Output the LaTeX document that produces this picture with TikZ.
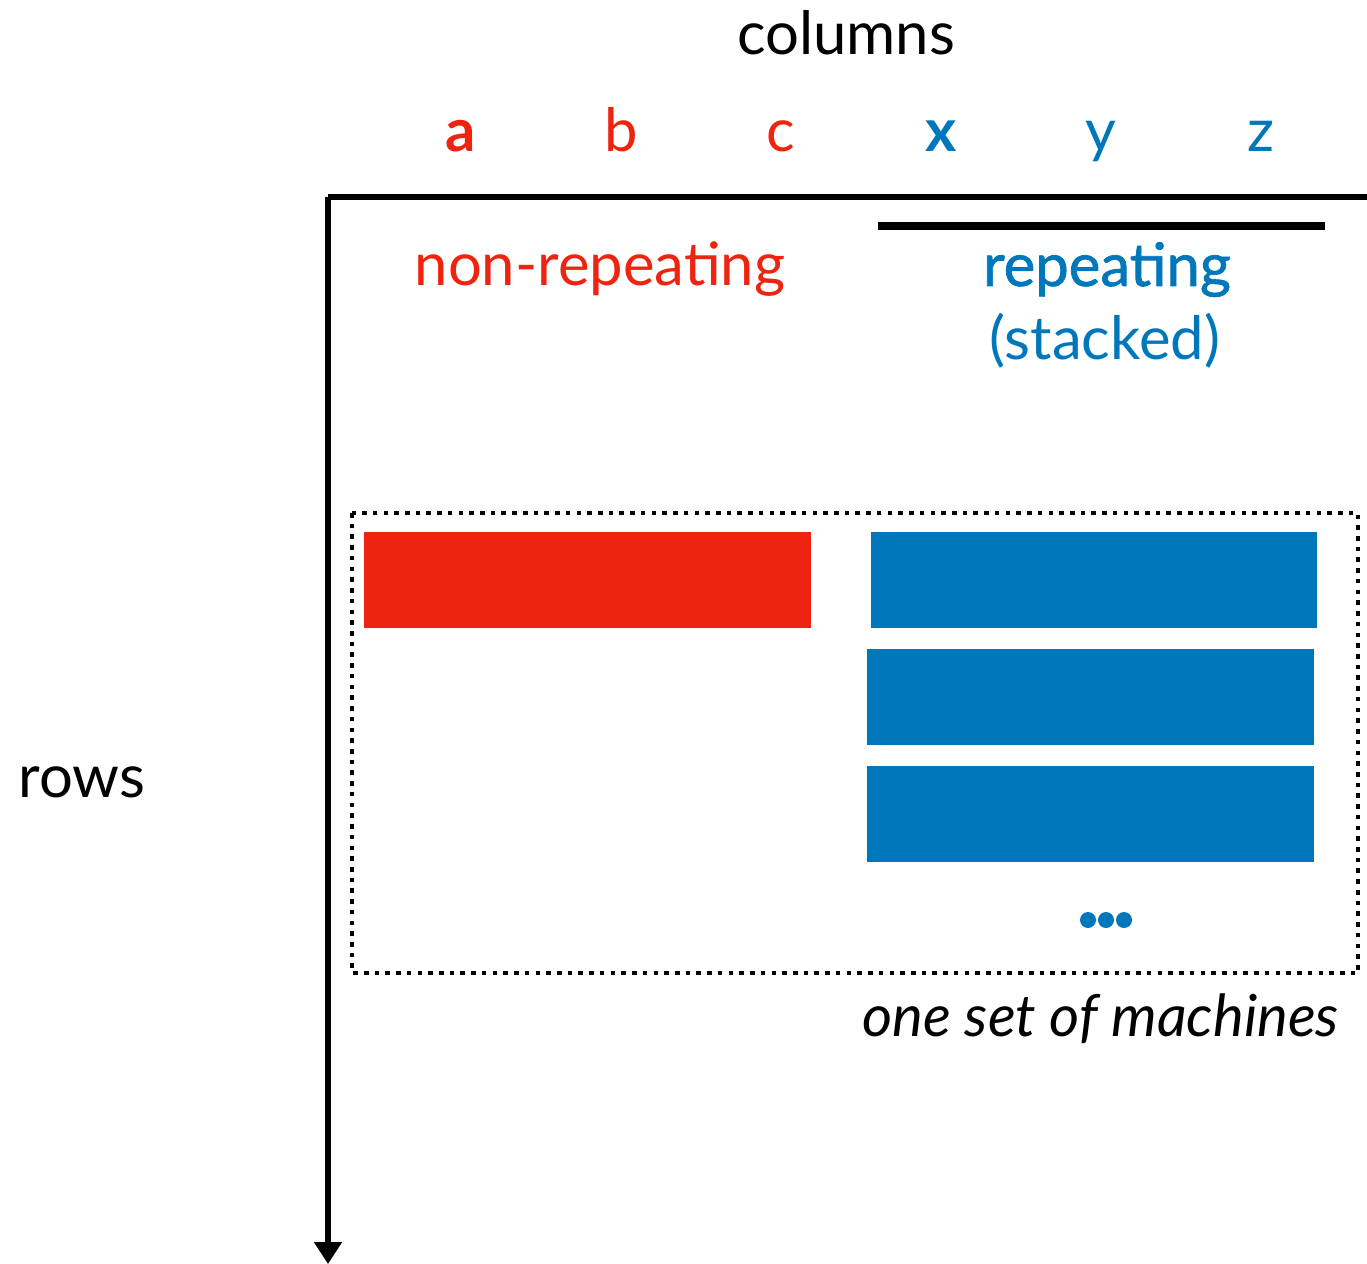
\documentclass[tikz,border=0pt]{standalone}
\usepackage{fontspec}
\setmainfont{Lato}
\newfontfamily\semifont[FakeBold=1.2]{Lato}
\usetikzlibrary{arrows.meta, positioning}
\definecolor{cred}{HTML}{EE2310}
\definecolor{cblue}{HTML}{0077BA}
\tikzset{
  every picture/.style={x=0.01cm, y=-0.01cm, line width=1.2pt},
  label/.style={font=\fontsize{17}{20}\selectfont, anchor=base, inner sep=0pt},
  axis/.style={draw=black, line width=1.45pt},
  arrow/.style={-{Triangle[width=0.27cm, length=0.22cm]}},
  machine/.style={fill=#1, draw=none, inner sep=0pt, outer sep=0pt, anchor=north west},
  groupbox/.style={draw=black, line width=1.3pt, dash pattern=on 1.3pt off 1.75pt},
  dot/.style={circle, fill=cblue, minimum size=0.16cm, inner sep=0pt},
}

\begin{document}
\begin{tikzpicture}
  \useasboundingbox (0,0) rectangle (1367,1264);
  % axes
  \coordinate (origin) at (328,197);
  \coordinate (colend) at (1367,197);
  \coordinate (rowend) at (328,1264);
  \draw[axis] (colend) -- (origin.center);
  \draw[axis, arrow] (origin) -- (rowend);
  \node[label] (columns) at (846,55) {columns};
  \node[label] (rows) at (82,797) {rows};
  % column names
  \node[label, text=cred, font=\fontsize{17}{20}\selectfont\bfseries] (ca) at (461,152) {a};
  \node[label, text=cred] (cb) at (621,152) {b};
  \node[label, text=cred] (cc) at (781,152) {c};
  \node[label, text=cblue, font=\fontsize{17}{20}\selectfont\bfseries] (cx) at (941,152) {x};
  \node[label, text=cblue] (cy) at (1101,152) {y};
  \node[label, text=cblue] (cz) at (1261,152) {z};
  % groups
  \coordinate (barl) at (878,226);
  \coordinate (barr) at (1325,226);
  \draw[line width=2pt] (barl) -- (barr);
  \node[label, text=cred] (nonrep) at (600,286) {non-repeating};
  \node[label, text=cblue, font=\fontsize{17}{20}\selectfont\semifont] (rep) at (1107,286) {repeating};
  \node[label, text=cblue] (stacked) at (1105,360) {(stacked)};
  % one set of machines
  \draw[groupbox] (352,513) rectangle (1358,973);
  \node[machine=cred, minimum width=4.47cm, minimum height=0.96cm] (red1) at (364,532) {};
  \node[machine=cblue, minimum width=4.46cm, minimum height=0.96cm] (blue1) at (871,532) {};
  \node[machine=cblue, minimum width=4.47cm, minimum height=0.96cm] (blue2) at (867,649) {};
  \node[machine=cblue, minimum width=4.47cm, minimum height=0.96cm] (blue3) at (867,766) {};
  \foreach \i in {0,1,2}
    \node[dot] (dot\i) at (1088+18*\i,920) {};
  \node[label, anchor=base east, font=\fontsize{16.5}{20}\selectfont\itshape] (oneset) at (1341,1036) {one set of machines};
\end{tikzpicture}
\end{document}
